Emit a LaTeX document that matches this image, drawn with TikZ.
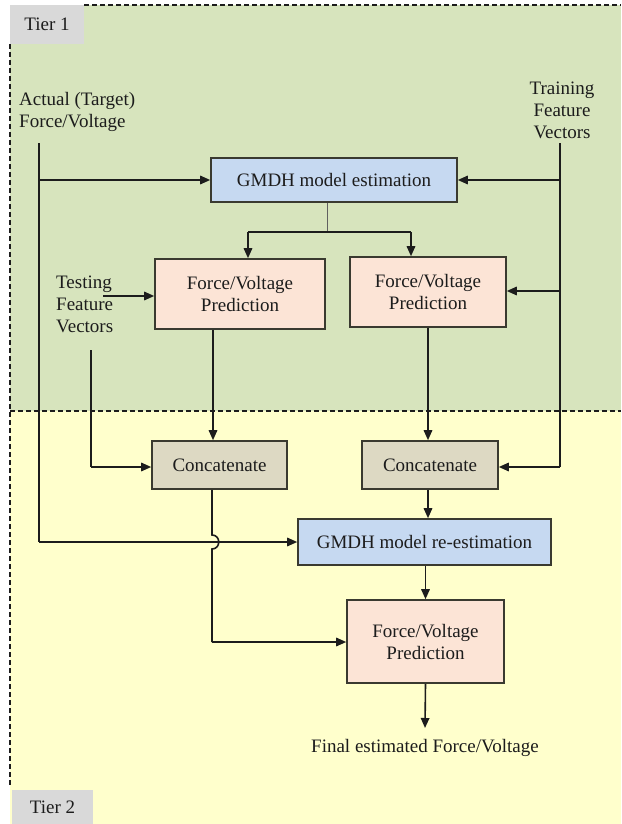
\documentclass[tikz,border=0pt]{standalone}
\usepackage{fontspec}
\setmainfont{Liberation Serif}
\newfontfamily\diagfont{Liberation Serif}
\usetikzlibrary{arrows.meta,calc}

\definecolor{tierA}{HTML}{D7E4BD}
\definecolor{tierB}{HTML}{FFFFCC}
\definecolor{bluebox}{HTML}{C6D9F1}
\definecolor{pinkbox}{HTML}{FCE4D6}
\definecolor{tanbox}{HTML}{DDD9C3}
\definecolor{tagfill}{HTML}{D9D9D9}
\definecolor{ink}{HTML}{1C1C1C}
\definecolor{edge}{HTML}{3A3A30}

\begin{document}
\begin{tikzpicture}[x=1pt,y=-1pt,
  every node/.style={font=\diagfont\fontsize{19}{22}\selectfont, text=ink},
  procbox/.style={draw=edge, line width=1.6pt, align=center, inner sep=0pt},
  estbox/.style={procbox, fill=bluebox},
  predbox/.style={procbox, fill=pinkbox},
  catbox/.style={procbox, fill=tanbox},
  tagbox/.style={fill=tagfill, inner sep=0pt},
  label/.style={inner sep=1pt},
  tierline/.style={draw=ink, line width=1.3pt, dash pattern=on 5pt off 3pt},
  flow/.style={draw=ink, line width=1.6pt, -{Triangle[length=10pt,width=8.5pt]}},
  plain/.style={draw=ink, line width=1.6pt},
]
\useasboundingbox (0,0) rectangle (621,824);
\fill[white] (0,0) rectangle (621,824);

% tier backgrounds
\fill[tierA] (10,5) rectangle (621,411);
\fill[tierB] (10,411) rectangle (621,824);
\draw[tierline] (84,5) -- (621,5);
\draw[tierline] (10,44) -- (10,786);
\draw[tierline] (10,411) -- (621,411);

% tier tags
\node[tagbox, minimum width=74pt, minimum height=39pt] (tier1) at (47,24.5) {Tier 1};
\node[tagbox, minimum width=81pt, minimum height=34pt] (tier2) at (52.5,807) {Tier 2};

% inputs
\node[label, align=left, anchor=west] (actual) at (18,112) {Actual (Target)\\Force/Voltage};
\node[label, align=center] (training) at (562,110) {Training\\Feature\\Vectors};
\node[label, align=left, anchor=west] (testing) at (55,304) {Testing\\Feature\\Vectors};

% processing blocks
\node[estbox, minimum width=246pt, minimum height=44pt] (est) at (334,180) {GMDH model estimation};
\node[predbox, minimum width=170pt, minimum height=70pt] (predL) at (240,294) {Force/Voltage\\Prediction};
\node[predbox, minimum width=156pt, minimum height=70pt] (predR) at (428,292) {Force/Voltage\\Prediction};
\node[catbox, minimum width=135pt, minimum height=48pt] (catL) at (219.5,465) {Concatenate};
\node[catbox, minimum width=136pt, minimum height=48pt] (catR) at (430,465) {Concatenate};
\node[estbox, minimum width=253pt, minimum height=46pt] (reest) at (424.5,542) {GMDH model re-estimation};
\node[predbox, minimum width=157pt, minimum height=83pt] (predF) at (425.5,641.5) {Force/Voltage\\Prediction};
\node[label] (final) at (425,748) {Final estimated Force/Voltage};

% junction points
\coordinate (aTop) at (39,143);
\coordinate (aBot) at (39,542);
\coordinate (tTop) at (560,143);
\coordinate (tBot) at (560,467);
\coordinate (split) at (327,232);
\coordinate (sL) at (248,232);
\coordinate (sR) at (411,232);
\coordinate (tstArrow) at (103,296);
\coordinate (tstTop) at (91,350);
\coordinate (tstBot) at (91,467);
\coordinate (fTip) at (425,728);
\coordinate (jA) at (212,535);
\coordinate (jB) at (212,549);
\coordinate (cBend) at (212,642);

% target force/voltage feed
\draw[plain] (aTop) -- (aBot);
\draw[flow] (aBot) -- (aBot -| reest.west);
\draw[flow] (39,180) -- (est.west);

% training feature vectors feed
\draw[plain] (tTop) -- (tBot);
\draw[flow] (560,180) -- (est.east);
\draw[flow] (560,291) -- (predR.east |- 0,291);
\draw[flow] (tBot) -- (tBot -| catR.east);

% estimated model shared by both predictors
\draw[draw=ink!70, line width=0.9pt] (est.south -| split) -- (split);
\draw[plain] (sL) -- (sR);
\draw[flow] (sL) -- (sL |- predL.north);
\draw[flow] (sR) -- (sR |- predR.north);

% testing feature vectors
\draw[flow] (tstArrow) -- (tstArrow -| predL.west);
\draw[plain] (tstTop) -- (tstBot);
\draw[flow] (tstBot) -- (tstBot -| catL.west);

% predictions into concatenation
\draw[flow] (predL.south -| 213,0) -- (catL.north -| 213,0);
\draw[flow] (predR.south) -- (catR.north -| predR.south);
\draw[flow] (catR.south -| predR.south) -- (reest.north -| predR.south);

% re-estimation and final prediction
\draw[plain] (catL.south -| jA) -- (jA)
  .. controls (221,535) and (221,549) .. (jB) -- (cBend);
\draw[flow] (cBend) -- (cBend -| predF.west);
\draw[flow] (reest.south -| predF.north) -- (predF.north);
\draw[flow] (predF.south) -- (fTip);
\end{tikzpicture}
\end{document}
